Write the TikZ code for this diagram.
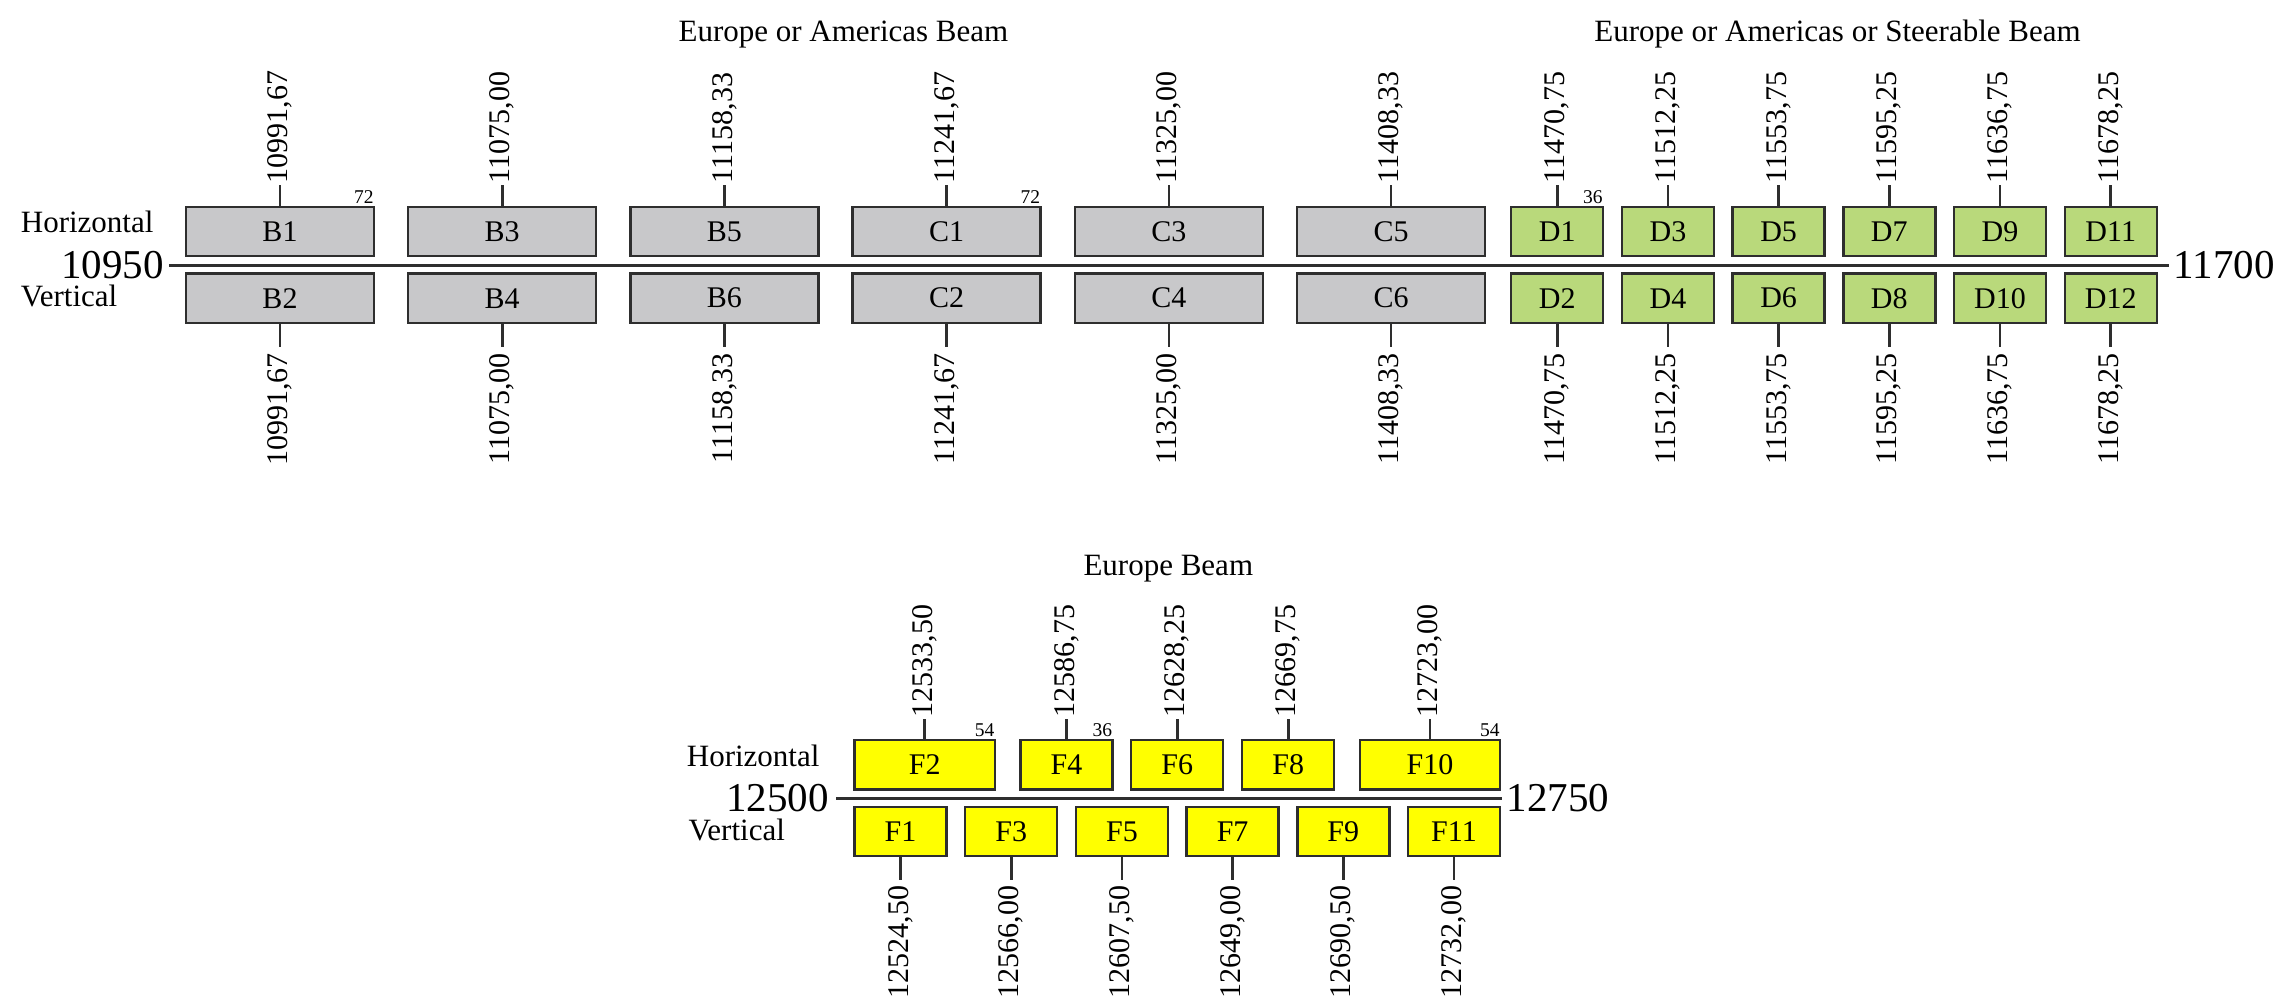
\documentclass[tikz,border=0pt]{standalone}
\usepackage{fontspec}
\setmainfont{Liberation Serif}
\definecolor{boxgray}{HTML}{C8C8CA}
\definecolor{boxgreen}{HTML}{B9D97B}
\definecolor{boxyellow}{HTML}{FFFF00}
\definecolor{edge}{HTML}{2E2E2E}
\tikzset{
  band/.style={draw=edge, line width=2.4pt, inner sep=0pt, minimum height=49.1pt,
    font=\fontsize{30}{36}\selectfont},
  graybox/.style={band, fill=boxgray, minimum width=188.1pt},
  greenbox/.style={band, fill=boxgreen, minimum width=92pt},
  ybox/.style={band, fill=boxyellow, minimum width=92pt},
  widey/.style={band, fill=boxyellow, minimum width=140.1pt},
  flab/.style={rotate=90, inner sep=0pt, font=\fontsize{30}{36}\selectfont},
  flabtop/.style={flab, anchor=west},
  flabbot/.style={flab, anchor=east},
  tick/.style={draw=edge, line width=2.6pt},
  axisline/.style={draw=edge, line width=3pt},
  axlab/.style={inner sep=0pt, font=\fontsize{41}{48}\selectfont},
  side/.style={inner sep=0pt, anchor=base west, font=\fontsize{31}{36}\selectfont},
  title/.style={inner sep=0pt, anchor=base, font=\fontsize{31}{36}\selectfont},
  sz/.style={inner sep=0pt, anchor=south east, xshift=-1.5pt, yshift=2pt,
    font=\fontsize{19.5}{22}\selectfont}
}
\begin{document}
\begin{tikzpicture}[x=1pt, y=-1pt]
\useasboundingbox (0,0) rectangle (2296,1006);

% ---------------- upper band ----------------
\node[title] (t1) at (843.4,41.7) {Europe or Americas Beam};
\node[title] (t2) at (1837.5,41.7) {Europe or Americas or Steerable Beam};
\node[side] (h1) at (20.7,232.7) {Horizontal};
\node[side] (v1) at (20.7,306.7) {Vertical};

\node[axlab, anchor=east] (lo1) at (163.8,265) {10950};
\node[axlab, anchor=west] (hi1) at (2173.5,265) {11700};
\draw[axisline, shorten <=5.5pt, shorten >=4.8pt] (lo1.east) -- (hi1.west);

\foreach \t/\b/\x/\f in {B1/B2/280/{10991,67}, B3/B4/502.2/{11075,00}, B5/B6/724.4/{11158,33},
  C1/C2/946.6/{11241,67}, C3/C4/1168.8/{11325,00}, C5/C6/1391/{11408,33}}{
  \node[graybox] (\t) at (\x,231.6) {\t};
  \node[graybox] (\b) at (\x,298.2) {\b};
  \node[flabtop] (u\t) at (\x,183.3) {\f};
  \node[flabbot] (d\b) at (\x,353.2) {\f};
  \draw[tick, shorten >=1.5pt] (\t.north) -- (u\t.west);
  \draw[tick, shorten >=6.5pt] (\b.south) -- (d\b.east);
}
\foreach \t/\b/\x/\f in {D1/D2/1557.2/{11470,75}, D3/D4/1667.9/{11512,25}, D5/D6/1778.6/{11553,75},
  D7/D8/1889.3/{11595,25}, D9/D10/2000/{11636,75}, D11/D12/2110.7/{11678,25}}{
  \node[greenbox] (\t) at (\x,231.6) {\t};
  \node[greenbox] (\b) at (\x,298.2) {\b};
  \node[flabtop] (u\t) at (\x,183.3) {\f};
  \node[flabbot] (d\b) at (\x,353.2) {\f};
  \draw[tick, shorten >=1.5pt] (\t.north) -- (u\t.west);
  \draw[tick, shorten >=6.5pt] (\b.south) -- (d\b.east);
}
\node[sz] (wB1) at (B1.north east) {72};
\node[sz] (wC1) at (C1.north east) {72};
\node[sz] (wD1) at (D1.north east) {36};

% ---------------- lower band ----------------
\node[title] (t3) at (1168.3,575) {Europe Beam};
\node[side] (h2) at (686.7,766) {Horizontal};
\node[side] (v2) at (688.3,840.7) {Vertical};

\node[axlab, anchor=east] (lo2) at (829,798) {12500};
\node[axlab, anchor=west] (hi2) at (1506.5,798) {12750};
\draw[axisline, shorten <=7pt, shorten >=4.8pt] (lo2.east) -- (hi2.west);

\foreach \t/\x/\f/\s in {F2/924.7/{12533,50}/widey, F4/1066.5/{12586,75}/ybox, F6/1177.2/{12628,25}/ybox,
  F8/1288.2/{12669,75}/ybox, F10/1430/{12723,00}/widey}{
  \node[\s] (\t) at (\x,764.8) {\t};
  \node[flabtop] (u\t) at (\x,717.3) {\f};
  \draw[tick, shorten >=1.5pt] (\t.north) -- (u\t.west);
}
\foreach \b/\x/\f in {F1/900.5/{12524,50}, F3/1011.2/{12566,00}, F5/1121.9/{12607,50},
  F7/1232.6/{12649,00}, F9/1343.3/{12690,50}, F11/1454/{12732,00}}{
  \node[ybox] (\b) at (\x,831.5) {\b};
  \node[flabbot] (d\b) at (\x,885.5) {\f};
  \draw[tick, shorten >=5.5pt] (\b.south) -- (d\b.east);
}
\node[sz] (wF2) at (F2.north east) {54};
\node[sz] (wF4) at (F4.north east) {36};
\node[sz] (wF10) at (F10.north east) {54};
\end{tikzpicture}
\end{document}
